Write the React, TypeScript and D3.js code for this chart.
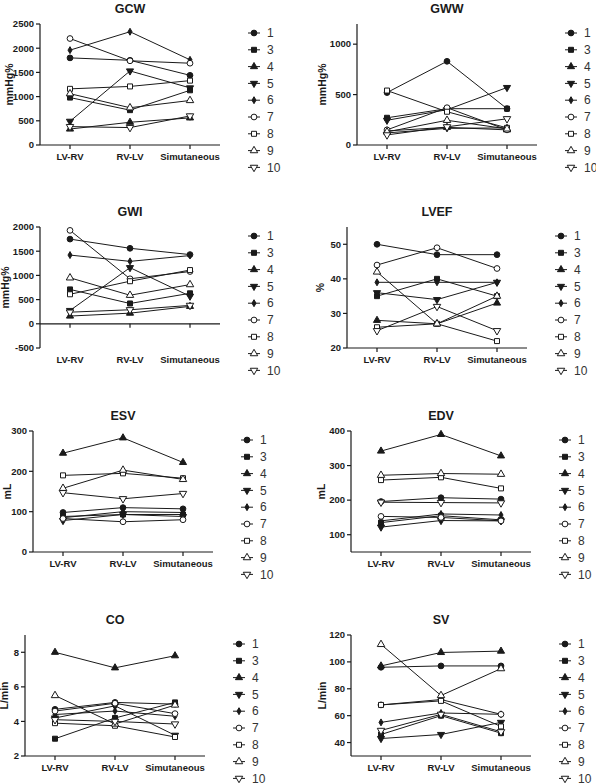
import React from 'react';
import * as d3 from 'd3';

const conditions = ['LV-RV', 'RV-LV', 'Simutaneous'];
const patients = ['1', '3', '4', '5', '6', '7', '8', '9', '10'];

// one row per patient (same order as `patients`), one value per condition
const gcw = [
  [1800, 1750, 1440],
  [980, 720, 1130],
  [330, 470, 560],
  [490, 1530, 1180],
  [1960, 2340, 1760],
  [2200, 1740, 1690],
  [1160, 1210, 1330],
  [1060, 770, 920],
  [380, 360, 600],
];
const gww = [
  [520, 830, 360],
  [270, 360, 360],
  [140, 175, 150],
  [245, 350, 570],
  [120, 165, 170],
  [150, 370, 150],
  [540, 330, 170],
  [130, 245, 160],
  [100, 180, 260],
];
const gwi = [
  [1750, 1560, 1430],
  [710, 420, 630],
  [160, 220, 360],
  [275, 1160, 570],
  [1420, 1290, 1410],
  [1930, 930, 1080],
  [610, 880, 1110],
  [950, 590, 810],
  [240, 290, 380],
];
const lvef = [
  [50, 47, 47],
  [35, 40, 35],
  [28, 27, 33],
  [36, 34, 39],
  [39, 39, 39],
  [44, 49, 43],
  [26, 27, 22],
  [42, 27, 35],
  [25, 32, 25],
];
const esv = [
  [98, 110, 107],
  [88, 93, 93],
  [245, 283, 222],
  [78, 93, 88],
  [85, 100, 98],
  [83, 75, 80],
  [190, 195, 183],
  [158, 203, 180],
  [147, 132, 145],
];
const edv = [
  [196, 207, 203],
  [135, 155, 143],
  [342, 390, 328],
  [122, 141, 140],
  [140, 160, 157],
  [153, 150, 140],
  [258, 266, 234],
  [272, 277, 275],
  [194, 193, 192],
];
const co = [
  [4.7, 5.1, 5.0],
  [3.0, 4.2, 5.1],
  [8.0, 7.1, 7.8],
  [4.2, 4.9, 3.2],
  [4.4, 4.6, 4.3],
  [4.6, 5.05, 4.45],
  [3.9, 3.75, 3.1],
  [5.5, 3.85, 4.95],
  [4.1, 4.0, 3.85],
];
const sv = [
  [96, 97, 97],
  [46, 60, 47],
  [97, 107, 108],
  [43, 46, 55],
  [55, 62, 61],
  [68, 72, 61],
  [68, 71, 52],
  [113, 75, 95],
  [49, 61, 48],
];

const gcwTicks = [0, 500, 1000, 1500, 2000, 2500];
const gwwTicks = [0, 500, 1000];
const gwiTicks = [-500, 0, 500, 1000, 1500, 2000];
const lvefTicks = [20, 30, 40, 50];
const esvTicks = [0, 100, 200, 300];
const edvTicks = [100, 200, 300, 400];
const coTicks = [2, 4, 6, 8];
const svTicks = [40, 60, 80, 100, 120];

const panels = [
  { title: 'GCW', unit: 'mmHg%', data: gcw, domain: [0, 2500], ticks: gcwTicks, left: 40, bottom: 145, labelGap: 31 },
  { title: 'GWW', unit: 'mmHg%', data: gww, domain: [0, 1200], ticks: gwwTicks, left: 357, bottom: 145, labelGap: 35 },
  { title: 'GWI', unit: 'mmHg%', data: gwi, domain: [-500, 2000], ticks: gwiTicks, left: 40, bottom: 348, labelGap: 35, zeroLine: true },
  { title: 'LVEF', unit: '%', data: lvef, domain: [20, 55], ticks: lvefTicks, left: 347, bottom: 348, labelGap: 27 },
  { title: 'ESV', unit: 'mL', data: esv, domain: [0, 300], ticks: esvTicks, left: 33, bottom: 552, labelGap: 26 },
  { title: 'EDV', unit: 'mL', data: edv, domain: [50, 400], ticks: edvTicks, left: 351, bottom: 552, labelGap: 30 },
  { title: 'CO', unit: 'L/min', data: co, domain: [2, 9], ticks: coTicks, left: 25, bottom: 756, labelGap: 21 },
  { title: 'SV', unit: 'L/min', data: sv, domain: [30, 120], ticks: svTicks, left: 351, bottom: 756, labelGap: 29 },
];

const W = 180;
const H = 121;
const ink = '#1a1a1a';
const font = '"Liberation Sans", Arial, Helvetica, sans-serif';

// marker per patient: shape, filled, size, upside down
const markers = [
  { type: d3.symbolCircle, filled: true, size: 26, flip: false },
  { type: d3.symbolSquare, filled: true, size: 25, flip: false },
  { type: d3.symbolTriangle, filled: true, size: 22, flip: false },
  { type: d3.symbolTriangle, filled: true, size: 22, flip: true },
  { type: d3.symbolDiamond, filled: true, size: 14, flip: false },
  { type: d3.symbolCircle, filled: false, size: 26, flip: false },
  { type: d3.symbolSquare, filled: false, size: 25, flip: false },
  { type: d3.symbolTriangle, filled: false, size: 24, flip: false },
  { type: d3.symbolTriangle, filled: false, size: 24, flip: true },
];

function Marker({ i, x, y }: { i: number; x: number; y: number }) {
  const m = markers[i];
  const d = d3.symbol().type(m.type).size(m.size)() as string;
  return (
    <path
      d={d}
      transform={`translate(${x},${y})${m.flip ? ' rotate(180)' : ''}`}
      fill={m.filled ? ink : '#fff'}
      stroke={ink}
      strokeWidth={1}
    />
  );
}

function Panel({ p }: { p: any }) {
  const xScale = d3.scalePoint<string>().domain(conditions).range([0, W]).padding(0.5);
  const yScale = d3.scaleLinear().domain(p.domain).range([H, 0]);
  const lineFn = d3
    .line<number>()
    .x((_, i) => xScale(conditions[i]) as number)
    .y((d) => yScale(d));
  const xAxisY = p.zeroLine ? yScale(0) : H;
  const top = p.bottom - H;

  return (
    <g transform={`translate(${p.left},${top})`}>
      <text x={W / 2} y={-11} textAnchor="middle" fontSize={12.5} fontWeight="bold" fill={ink}>
        {p.title}
      </text>

      {/* y axis */}
      <line x1={0} x2={0} y1={0} y2={H} stroke={ink} strokeWidth={1.2} />
      {p.ticks.map((t: number) => (
        <g key={t} transform={`translate(0,${yScale(t)})`}>
          <line x1={-4} x2={0} stroke={ink} strokeWidth={1.2} />
          <text x={-6} dy="0.35em" textAnchor="end" fontSize={9.5} fontWeight="bold" fill={ink}>
            {t}
          </text>
        </g>
      ))}
      <text
        transform={`translate(${-p.labelGap},${H / 2}) rotate(-90)`}
        textAnchor="middle"
        dy="0.35em"
        fontSize={10.5}
        fontWeight="bold"
        fill={ink}
      >
        {p.unit}
      </text>

      {/* x axis */}
      <line x1={0} x2={W} y1={xAxisY} y2={xAxisY} stroke={ink} strokeWidth={1.2} />
      {conditions.map((c) => (
        <g key={c} transform={`translate(${xScale(c)},0)`}>
          <line y1={xAxisY} y2={xAxisY + 4} stroke={ink} strokeWidth={1.2} />
          <text y={H + 15} textAnchor="middle" fontSize={9.5} fontWeight="bold" fill={ink}>
            {c}
          </text>
        </g>
      ))}

      {/* series */}
      {p.data.map((vals: number[], i: number) => (
        <path key={'l' + i} d={lineFn(vals) as string} fill="none" stroke={ink} strokeWidth={1} />
      ))}
      {p.data.map((vals: number[], i: number) =>
        vals.map((v, j) => <Marker key={i + '-' + j} i={i} x={xScale(conditions[j]) as number} y={yScale(v)} />)
      )}

      {/* legend */}
      {patients.map((name, i) => {
        const ly = H - 112 + i * 16.8;
        return (
          <g key={name} transform={`translate(214,${ly})`}>
            <line x1={-6} x2={6} stroke={ink} strokeWidth={1} />
            <Marker i={i} x={0} y={0} />
            <text x={13} dy="0.35em" fontSize={12} fill="#333">
              {name}
            </text>
          </g>
        );
      })}
    </g>
  );
}

export default function App() {
  return (
    <svg
      width={596}
      height={783}
      style={{ position: 'absolute', left: 0, top: 0, background: '#fff' }}
      fontFamily={font}
    >
      <rect width={596} height={783} fill="#fff" />
      {panels.map((p) => (
        <Panel key={p.title} p={p} />
      ))}
    </svg>
  );
}
